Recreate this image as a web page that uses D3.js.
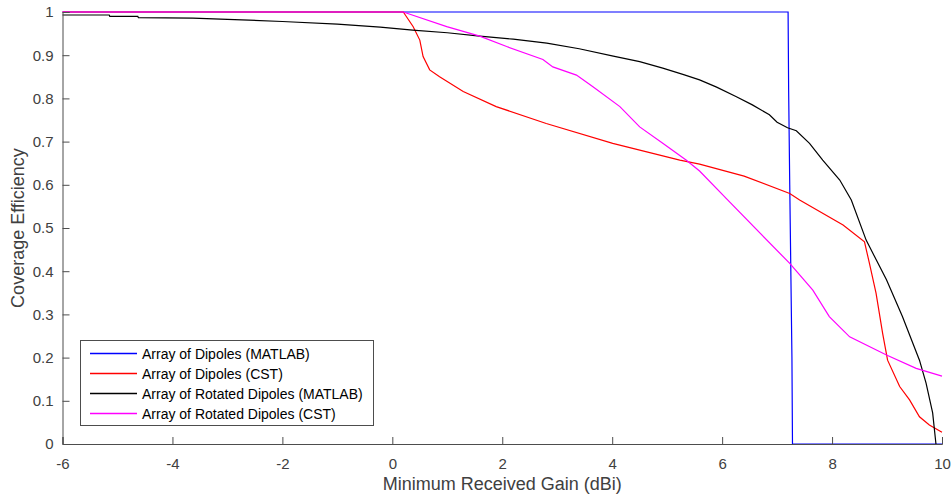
<!DOCTYPE html>
<html><head><meta charset="utf-8">
<script src="https://cdn.jsdelivr.net/npm/d3@7"></script>
<style>body{margin:0;background:#fff;}svg{display:block;font-family:"Liberation Sans",Arial,sans-serif;}</style>
</head><body>
<svg id="c" width="952" height="497"></svg>
<script>
const seriesNames = ["Array of Dipoles (MATLAB)","Array of Dipoles (CST)","Array of Rotated Dipoles (MATLAB)","Array of Rotated Dipoles (CST)"];
const seriesColors = ["#0000ff","#ff0000","#000000","#ff00ff"];
const xTicks = [-6,-4,-2,0,2,4,6,8,10];
const yTicks = [0,0.1,0.2,0.3,0.4,0.5,0.6,0.7,0.8,0.9,1];
const xTickLabels = ["-6","-4","-2","0","2","4","6","8","10"];
const yTickLabels = ["0","0.1","0.2","0.3","0.4","0.5","0.6","0.7","0.8","0.9","1"];

const dipolesMatlab = [[-6,1],[7.2,1],[7.21,0.82],[7.23,0.6],[7.25,0.4],[7.27,0.2],[7.28,0],[10,0]];
const dipolesCst = [[-6,1],[0.2,1],[0.38,0.966],[0.5,0.935],[0.56,0.897],[0.68,0.866],[0.86,0.85],[1.29,0.816],[1.89,0.781],[2.8,0.742],[4.01,0.696],[5.23,0.657],[5.59,0.648],[6.4,0.62],[7.23,0.58],[7.41,0.565],[8.2,0.507],[8.59,0.468],[8.68,0.418],[8.8,0.349],[8.92,0.256],[9.01,0.194],[9.23,0.133],[9.41,0.102],[9.59,0.063],[9.77,0.044],[10,0.027]];
const rotatedMatlab = [[-6,0.993],[-5.15,0.993],[-5.14,0.99],[-4.63,0.99],[-4.62,0.987],[-3.63,0.986],[-3,0.983],[-2,0.978],[-1,0.972],[-0.22,0.965],[0.37,0.958],[1,0.952],[1.59,0.944],[2.2,0.937],[2.81,0.928],[3.4,0.915],[4.02,0.898],[4.5,0.885],[4.92,0.87],[5.3,0.855],[5.59,0.843],[5.9,0.826],[6.26,0.804],[6.55,0.785],[6.86,0.762],[7.0,0.745],[7.19,0.732],[7.35,0.725],[7.59,0.696],[7.83,0.657],[8.14,0.611],[8.35,0.565],[8.62,0.472],[8.99,0.38],[9.28,0.295],[9.59,0.194],[9.71,0.141],[9.83,0.072],[9.89,0]];
const rotatedCst = [[-6,1],[0.2,1],[0.99,0.966],[1.59,0.944],[2.08,0.92],[2.74,0.89],[2.92,0.873],[3.35,0.854],[3.65,0.827],[4.14,0.781],[4.5,0.734],[4.92,0.696],[5.35,0.657],[5.59,0.632],[6.1,0.565],[7.23,0.418],[7.65,0.356],[7.95,0.295],[8.32,0.248],[8.99,0.206],[9.53,0.175],[10,0.157]];
const allSeries = [dipolesMatlab, dipolesCst, rotatedMatlab, rotatedCst];

const svg = d3.select("#c");
const mLeft = 62.5, mRight = 942, mTop = 12, mBottom = 444;
const x = d3.scaleLinear().domain([-6,10]).range([mLeft,mRight]);
const y = d3.scaleLinear().domain([0,1]).range([mBottom,mTop]);
const axisColor = "#4d4d4d", textColor = "#404040";

const line = d3.line().x(d=>x(d[0])).y(d=>y(d[1]));
allSeries.forEach((s,i)=>{
  svg.append("path").attr("d",line(s)).attr("fill","none")
    .attr("stroke",seriesColors[i]).attr("stroke-width",1.2);
});

const xa = svg.append("g").attr("transform",`translate(0,${mBottom})`)
  .call(d3.axisBottom(x).tickValues(xTicks).tickSize(-7).tickPadding(14).tickFormat((d,i)=>xTickLabels[i]));
const ya = svg.append("g").attr("transform",`translate(${mLeft},0)`)
  .call(d3.axisLeft(y).tickValues(yTicks).tickSize(-7).tickPadding(9).tickFormat((d,i)=>yTickLabels[i]));
[xa,ya].forEach(a=>{
  a.selectAll("path,line").attr("stroke",axisColor);
  a.selectAll("text").attr("fill",textColor).style("font-size","15px").style("font-family","'Liberation Sans',Arial,sans-serif");
});

svg.append("text").attr("x",(mLeft+mRight)/2).attr("y",490).attr("text-anchor","middle")
  .attr("fill",textColor).style("font-size","18px").text("Minimum Received Gain (dBi)");
svg.append("text").attr("transform",`translate(24,${(mTop+mBottom)/2}) rotate(-90)`).attr("text-anchor","middle")
  .attr("fill",textColor).style("font-size","18px").text("Coverage Efficiency");

// legend
const lg = svg.append("g");
lg.append("rect").attr("x",80.5).attr("y",340.5).attr("width",293).attr("height",85)
  .attr("fill","#fff").attr("stroke","#4d4d4d").attr("stroke-width",1);
seriesNames.forEach((n,i)=>{
  const yy = 353.5 + i*20;
  lg.append("path").attr("d",`M90,${yy}H137`).attr("fill","none")
    .style("stroke",seriesColors[i]).style("stroke-width","1.4px");
  lg.append("text").attr("x",142).attr("y",yy+5).attr("fill","#000").style("font-size","14px").text(n);
});
</script>
</body></html>
